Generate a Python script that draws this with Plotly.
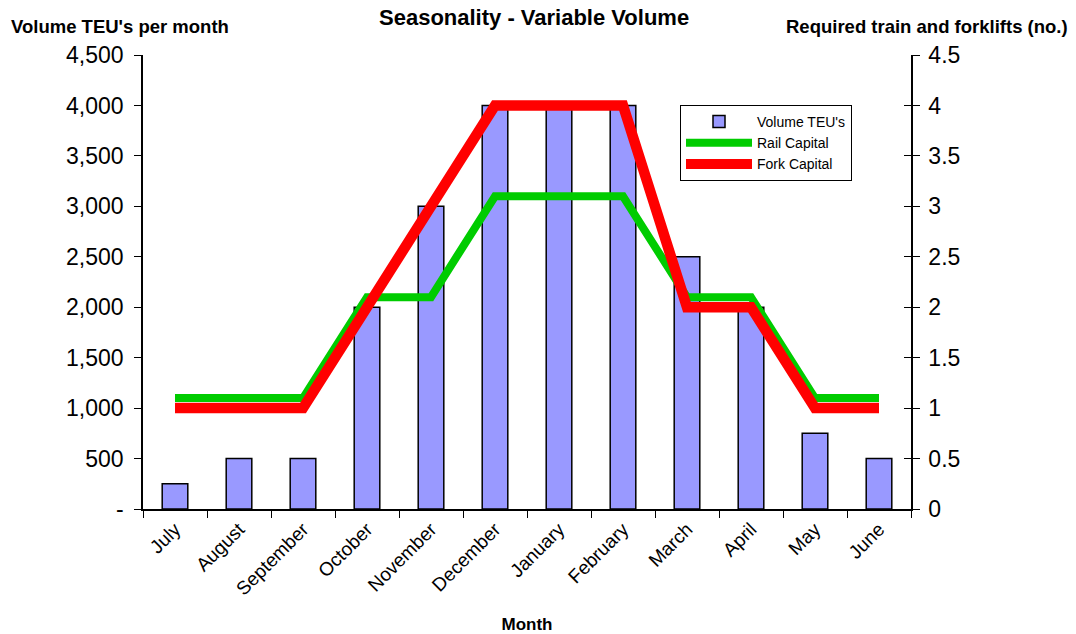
import plotly.graph_objects as go

months = ["July", "August", "September", "October", "November", "December",
          "January", "February", "March", "April", "May", "June"]
volume_teu = [250, 500, 500, 2000, 3000, 4000, 4000, 4000, 2500, 2000, 750, 500]
rail_capital = [1.1, 1.1, 1.1, 2.1, 2.1, 3.1, 3.1, 3.1, 2.1, 2.1, 1.1, 1.1]
fork_capital = [1, 1, 1, 2, 3, 4, 4, 4, 2, 2, 1, 1]

left_ticks = [0, 500, 1000, 1500, 2000, 2500, 3000, 3500, 4000, 4500]
left_labels = ["-", "500", "1,000", "1,500", "2,000", "2,500", "3,000", "3,500", "4,000", "4,500"]
right_ticks = [0, 0.5, 1, 1.5, 2, 2.5, 3, 3.5, 4, 4.5]
right_labels = ["0", "0.5", "1", "1.5", "2", "2.5", "3", "3.5", "4", "4.5"]

font = "Liberation Sans, Arial, sans-serif"

# plot area in pixels
L, R, T, B = 143, 165, 55, 125
W, H = 1076, 634
pw = W - L - R
ph = H - T - B


def px(xp):
    return (xp - L) / pw


def py(yp):
    return (H - B - yp) / ph


fig = go.Figure()
fig.add_trace(go.Bar(
    x=months, y=volume_teu, name="Volume TEU's",
    marker=dict(color="#9999FF", line=dict(color="black", width=1.5)),
    width=0.4, yaxis="y",
))
fig.add_trace(go.Scatter(
    x=months, y=rail_capital, name="Rail Capital", mode="lines",
    line=dict(color="#00CC00", width=8), yaxis="y2",
))
fig.add_trace(go.Scatter(
    x=months, y=fork_capital, name="Fork Capital", mode="lines",
    line=dict(color="#FF0000", width=10.5), yaxis="y2",
))
# carries the inward tick marks of the right-hand axis
fig.add_trace(go.Scatter(x=[months[0]], y=[None], yaxis="y3", showlegend=False,
                         hoverinfo="skip"))

fig.update_layout(
    width=W, height=H,
    margin=dict(l=L, r=R, t=T, b=B),
    paper_bgcolor="white", plot_bgcolor="white",
    font=dict(family=font, color="black"),
    showlegend=True,
    legend=dict(
        x=px(680), y=py(105), xanchor="left", yanchor="top",
        bgcolor="white", bordercolor="black", borderwidth=1,
        font=dict(size=14, family=font), itemwidth=66,
        entrywidth=196, entrywidthmode="pixels",
        tracegroupgap=0,
    ),
    xaxis=dict(
        type="category", range=[-0.5, 11.5], automargin=False,
        showline=True, linecolor="black", linewidth=1.5,
        ticks="outside", ticklen=7, tickcolor="black", tickson="boundaries",
        tickangle=-45, tickfont=dict(size=19, family=font),
        showgrid=False,
        title=dict(text="<b>Month</b>", font=dict(size=17, family=font), standoff=22),
    ),
    yaxis=dict(
        range=[0, 4500], tickvals=left_ticks, ticktext=left_labels, automargin=False,
        showline=True, linecolor="black", linewidth=1.5,
        ticks="outside", ticklen=7, tickcolor="black",
        tickfont=dict(size=23, family=font), showgrid=False, zeroline=False,
        ticklabelstandoff=6,
    ),
    yaxis2=dict(
        range=[0, 4.5], tickvals=right_ticks, ticktext=right_labels, automargin=False,
        overlaying="y", side="right",
        showline=True, linecolor="black", linewidth=1.5,
        ticks="outside", ticklen=7, tickcolor="black",
        tickfont=dict(size=23, family=font), showgrid=False, zeroline=False,
        ticklabelstandoff=4,
    ),
    yaxis3=dict(
        range=[0, 4.5], tickvals=right_ticks, showticklabels=False, automargin=False,
        overlaying="y", side="right", anchor="x",
        showline=False, ticks="inside", ticklen=7, tickcolor="black",
        showgrid=False, zeroline=False,
    ),
    annotations=[
        dict(text="<b>Seasonality - Variable Volume</b>", x=px(534), y=py(17),
             xref="paper", yref="paper", showarrow=False,
             xanchor="center", yanchor="middle",
             font=dict(size=22, family=font)),
        dict(text="<b>Volume TEU's per month</b>", x=px(9), y=py(27),
             xref="paper", yref="paper", showarrow=False,
             xanchor="left", yanchor="middle",
             font=dict(size=18.5, family=font)),
        dict(text="<b>Required train and forklifts (no.)</b>", x=px(1070), y=py(27),
             xref="paper", yref="paper", showarrow=False,
             xanchor="right", yanchor="middle",
             font=dict(size=18.5, family=font)),
    ],
)

fig.write_html("out.html")
